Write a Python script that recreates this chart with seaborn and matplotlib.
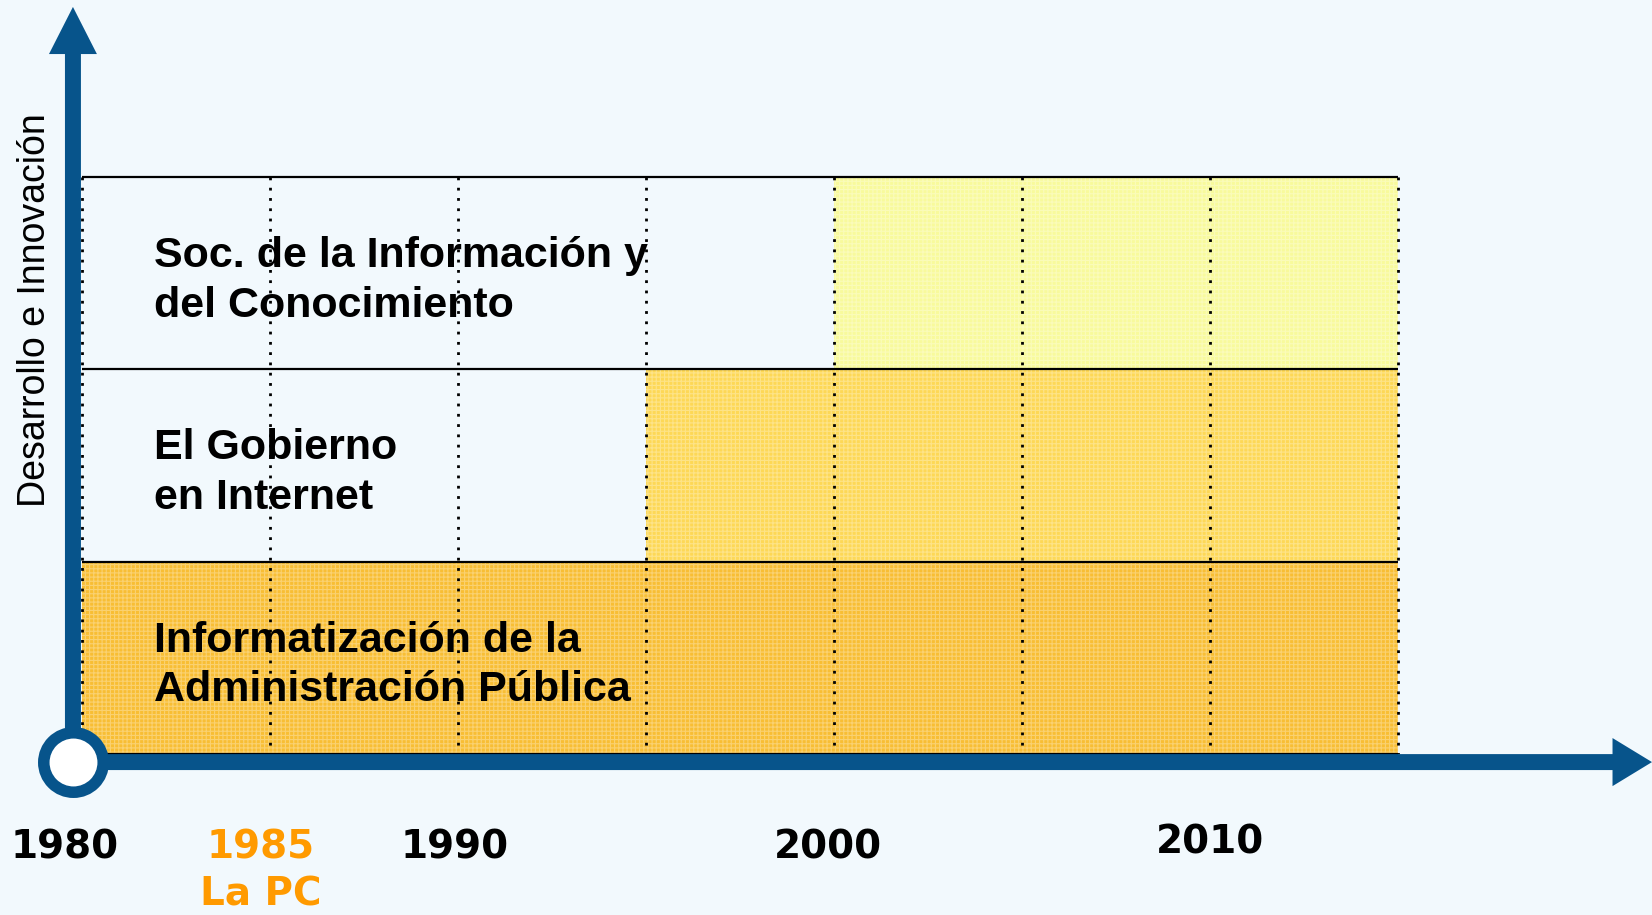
import numpy as np
import pandas as pd
import matplotlib
matplotlib.use("Agg")
import matplotlib.pyplot as plt
from matplotlib.colors import ListedColormap
from matplotlib.patches import FancyArrow, Rectangle
import seaborn as sns

# rows listed top to bottom
row_labels = ["Soc. de la Información y\ndel Conocimiento",
              "El Gobierno\nen Internet",
              "Informatización de la\nAdministración Pública"]
start_years = [2000, 1995, 1980]
end_year = 2015
period_starts = list(range(1980, 2015, 5))
row_colors = ["#F8FA9C", "#FDD856", "#F8BE34"]

year_ticks = [1980, 1985, 1990, 2000, 2010]
year_labels = ["1980", "1985\nLa PC", "1990", "2000", "2010"]
year_colors = ["black", "#FF9A00", "black", "black", "black"]
y_label = "Desarrollo e Innovación"

BLUE = "#07548B"
BG = "#F2F9FD"

# cell matrix: value = row index where the stage is active
mat = pd.DataFrame(
    [[i if p >= s else np.nan for p in period_starts] for i, s in enumerate(start_years)],
    index=row_labels, columns=period_starts)

plt.rcParams["hatch.linewidth"] = 0.8
fig = plt.figure(figsize=(16.52, 9.15), dpi=100, facecolor=BG)
ax = fig.add_axes([0, 0, 1, 1])
ax.set_facecolor(BG)

sns.heatmap(mat, ax=ax, cmap=ListedColormap(row_colors), vmin=-0.5, vmax=2.5,
            cbar=False, linewidths=0)
nrow, ncol = mat.shape
ax.set_xlim(-0.436, 8.351)
ax.set_ylim(3.837, -0.920)
ax.axis("off")

# fine grid texture over the filled cells
for r in range(nrow):
    for c in range(ncol):
        if not np.isnan(mat.iat[r, c]):
            ax.add_patch(Rectangle((c, r), 1, 1, fill=False, hatch="++++",
                                   edgecolor=(1, 1, 1, 0.3), lw=0, zorder=2))

# row separators and dotted period lines
for y in range(nrow + 1):
    ax.plot([0, ncol], [y, y], color="black", lw=1.6, zorder=3, solid_capstyle="butt")
for x in range(ncol + 1):
    ax.plot([x, x], [0, nrow], color="black", lw=2.0, ls=(0, (1, 2.7)), zorder=3)

for i, lab in enumerate(row_labels):
    ax.text(0.383, i + 0.54, lab, family="Liberation Sans", weight="bold",
            fontsize=31, va="center", ha="left", linespacing=1.32, zorder=4)

# axes with arrows
x0, y0 = -0.048, 3.042
ax.add_patch(FancyArrow(x0, y0, 8.351 - x0, 0, width=0.083, head_width=0.25,
                        head_length=0.21, length_includes_head=True,
                        color=BLUE, lw=0, zorder=5))
ax.add_patch(FancyArrow(x0, y0, 0, -0.884 - y0, width=0.085, head_width=0.255,
                        head_length=0.245, length_includes_head=True,
                        color=BLUE, lw=0, zorder=5))
ax.plot([x0], [y0], marker="o", ms=42.8, mew=8.3, mec=BLUE, mfc="white", zorder=6)

ax.text(-0.25, 0.69, y_label, rotation=90, family="Liberation Sans",
        fontsize=27, va="center", ha="center")

nudge = [-0.09, -0.05, -0.02, -0.03, 0.0]
lift = [0, 0, 0, 0, 0.025]
for yr, lab, c, dx, dy in zip(year_ticks, year_labels, year_colors, nudge, lift):
    ax.text((yr - 1980) / 5 + dx, 3.385 - dy, lab, color=c, family="DejaVu Sans",
            weight="bold", fontsize=28, va="top", ha="center", linespacing=1.32)

fig.savefig("out.png", dpi=100, facecolor=BG)
